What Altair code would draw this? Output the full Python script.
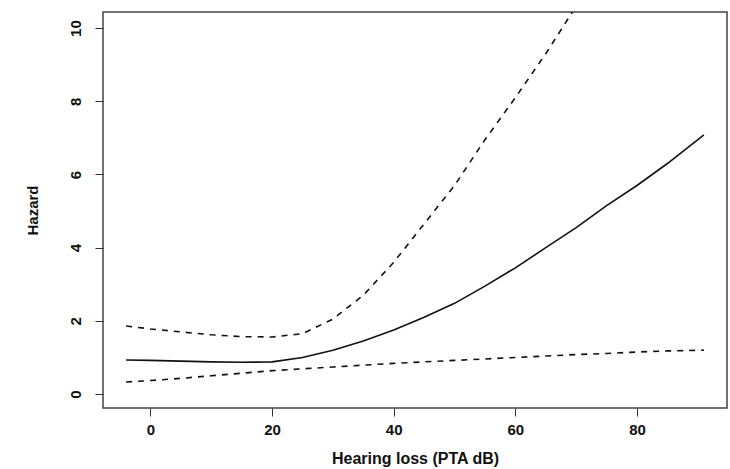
import altair as alt
import pandas as pd

# Hearing loss (PTA dB) grid and hazard estimates
x_fit = [-4, 0, 5, 10, 15, 20, 25, 30, 35, 40, 45, 50, 55, 60, 65, 70, 75, 80, 85, 91]
hazard = [0.93, 0.92, 0.90, 0.88, 0.87, 0.88, 1.0, 1.2, 1.45, 1.75, 2.1, 2.48, 2.95,
          3.45, 4.0, 4.55, 5.15, 5.7, 6.3, 7.08]

x_upper = [-4, 0, 5, 10, 15, 20, 25, 30, 35, 40, 45, 50, 55, 60, 65, 70]
upper = [1.86, 1.78, 1.70, 1.62, 1.57, 1.56, 1.65, 2.05, 2.7, 3.6, 4.65, 5.7, 6.95,
         8.1, 9.3, 10.6]

x_lower = [-4, 0, 5, 10, 15, 20, 25, 30, 35, 40, 45, 50, 55, 60, 65, 70, 75, 80, 85, 91]
lower = [0.33, 0.37, 0.43, 0.5, 0.57, 0.64, 0.69, 0.74, 0.79, 0.84, 0.88, 0.92, 0.96,
         1.0, 1.04, 1.08, 1.11, 1.15, 1.18, 1.2]

x_ticks = [0, 20, 40, 60, 80]
y_ticks = [0, 2, 4, 6, 8, 10]

df_fit = pd.DataFrame({"x": x_fit, "y": hazard})
df_up = pd.DataFrame({"x": x_upper, "y": upper})
df_lo = pd.DataFrame({"x": x_lower, "y": lower})

FONT = "Liberation Sans"

xs = alt.Scale(domain=[-7.8, 94.8], nice=False, zero=False)
ys = alt.Scale(domain=[-0.38, 10.44], nice=False, zero=False)

xenc = alt.X("x:Q", scale=xs, title="Hearing loss (PTA dB)",
             axis=alt.Axis(values=x_ticks, grid=False, domain=False, tickSize=8,
                           tickColor="#333", labelPadding=6, labelFontSize=15,
                           labelFontWeight="bold", labelFont=FONT, labelColor="#111",
                           titleFont=FONT, titleFontSize=16, titleFontWeight="bold",
                           titleColor="#111", titlePadding=13, labelFlush=False))
yenc = alt.Y("y:Q", scale=ys, title="Hazard",
             axis=alt.Axis(values=y_ticks, grid=False, domain=False, tickSize=8,
                           tickColor="#333", labelAngle=270, labelAlign="center",
                           labelBaseline="bottom", labelPadding=12, labelFontSize=15,
                           labelFontWeight="bold", labelFont=FONT, labelColor="#111",
                           titleFont=FONT, titleFontSize=15, titleFontWeight="bold",
                           titleColor="#111", titlePadding=28, labelFlush=False))

fit = alt.Chart(df_fit).mark_line(color="#111", strokeWidth=1.6, clip=True).encode(
    x=xenc, y=yenc)
up = alt.Chart(df_up).mark_line(color="#111", strokeWidth=1.6, strokeDash=[6, 6],
                                clip=True).encode(x=xenc, y=yenc)
lo = alt.Chart(df_lo).mark_line(color="#111", strokeWidth=1.6, strokeDash=[6, 6],
                                clip=True).encode(x=xenc, y=yenc)

chart = alt.layer(fit, up, lo).properties(
    width=624, height=396,
    autosize=alt.AutoSizeParams(type="none"),
    padding={"left": 103, "top": 12, "right": 3, "bottom": 61},
    background="white",
).configure_view(stroke="#444", strokeWidth=1.5)

chart.save("out.html", embed_options={"renderer": "svg", "actions": False})
